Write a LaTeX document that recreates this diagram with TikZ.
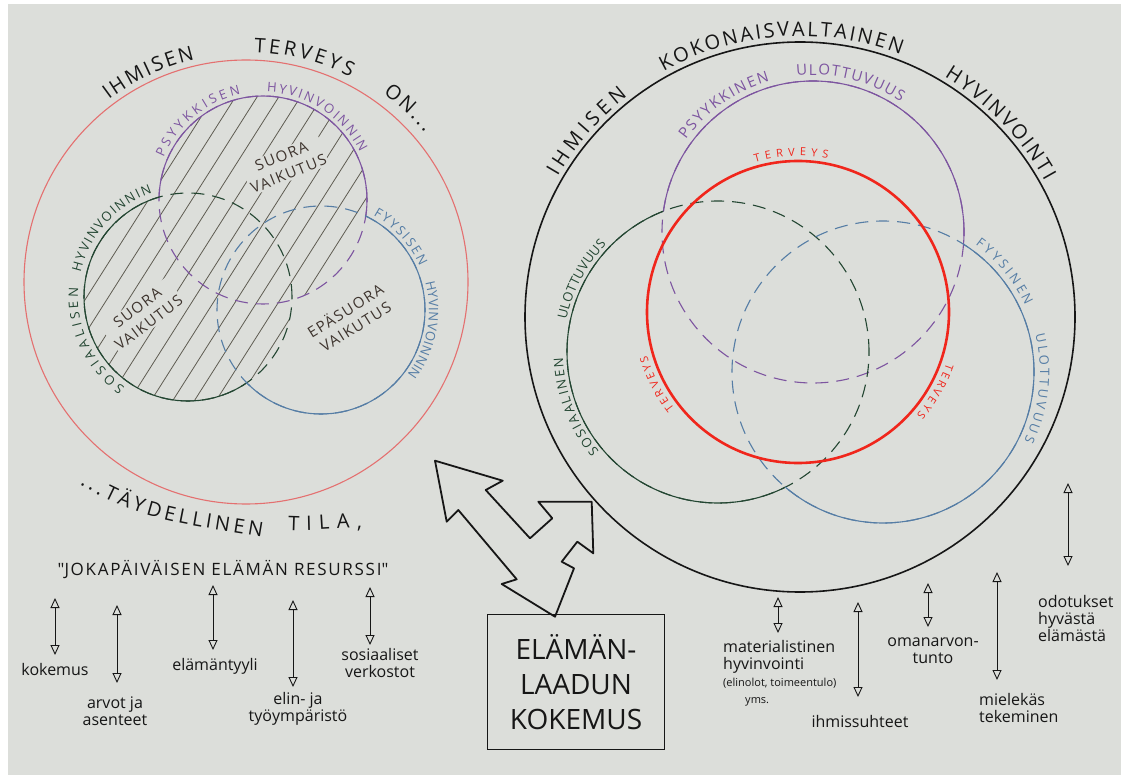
\documentclass[tikz,border=0pt]{standalone}
\usepackage{fontspec}
\setmainfont{Open Sans}
\usetikzlibrary{arrows.meta,calc,decorations.text}
\definecolor{paper}{RGB}{220,222,218}
\definecolor{inkblack}{RGB}{22,22,22}
\definecolor{inkpink}{RGB}{228,112,112}
\definecolor{inkpurple}{RGB}{125,85,160}
\definecolor{inkgreen}{RGB}{35,70,50}
\definecolor{inkblue}{RGB}{85,125,165}
\definecolor{inkred}{RGB}{240,38,28}
\definecolor{inkgrey}{RGB}{95,92,82}
\definecolor{inkbrown}{RGB}{62,52,46}
\tikzset{
  ring/.style={line width=1.1pt},
  ringdash/.style={line width=1.1pt, dash pattern=on 13pt off 8pt},
  hatch/.style={draw=inkgrey, line width=0.8pt},
  dblarrow/.style={{Triangle[open,length=10pt,width=9pt]}-{Triangle[open,length=10pt,width=9pt]},
    line width=0.9pt, draw=inkblack},
  lbl/.style={font=\fontsize{16}{17}\selectfont, text=inkblack, align=center,
    inner sep=0pt, anchor=north},
  innerlbl/.style={font=\fontsize{15}{19}\selectfont\addfontfeature{LetterSpace=10},
    text=inkbrown, align=center, fill=paper, inner sep=1.5pt},
  bigarrow/.style={draw=inkblack, line width=1.8pt, line join=round}
}
\newcommand\capsbig{\fontsize{20}{20}\selectfont}
\newcommand\capsmid{\fontsize{15}{15}\selectfont}
\newcommand\capssmall{\fontsize{13}{13}\selectfont}
\newcommand\capstiny{\fontsize{11}{11}\selectfont}
% word along a clockwise arc: centre, radius, from, to, colour, text
\newcommand\arclabel[6]{%
  \path[decorate,decoration={text along path,text align=fit to path,text color=#5,text={#6}}]
    ($(#1)+(#3:#2)$) arc[start angle=#3,end angle=#4,radius=#2];}
% one circle of a three-set diagram: solid outside the other two, dashed inside
\newcommand\vennring[5]{%
  \draw[ringdash,#2] (#1) circle[radius=#5];
  \begin{scope}[even odd rule]
    \clip (0,0) rectangle (1121,-775) (#3) circle[radius=#5];
    \begin{scope}[even odd rule]
      \clip (0,0) rectangle (1121,-775) (#4) circle[radius=#5];
      \draw[ring,#2] (#1) circle[radius=#5];
    \end{scope}
  \end{scope}}

\begin{document}
\begin{tikzpicture}[x=1pt,y=1pt]
  \useasboundingbox (0,0) rectangle (1121,-775);
  \fill[white] (0,0) rectangle (1121,-775);
  \fill[paper] (8,-4) rectangle (1121,-775);

  % left diagram
  \coordinate (lred) at (246,-282);
  \coordinate (lpsy) at (263,-200);
  \coordinate (lsoc) at (188,-297);
  \coordinate (lphy) at (321,-310);

  \begin{scope}
    \clip (lpsy) circle[radius=104] (lsoc) circle[radius=104];
    \begin{scope}[shift={(225,-250)},rotate=57.6]
      \foreach \k in {-11,...,11}
        \draw[hatch] (-260,\k*18.3) -- (260,\k*18.3);
    \end{scope}
  \end{scope}

  \node[innerlbl,rotate=22] (suoraPsy) at (285,-165) {SUORA\\VAIKUTUS};
  \node[innerlbl,rotate=37] (suoraSoc) at (143,-315) {SUORA\\VAIKUTUS};
  \node[innerlbl,rotate=32] (epasuora) at (350,-318) {EPÄSUORA\\VAIKUTUS};

  \draw[ring,inkpink] (lred) circle[radius=222];
  \vennring{lpsy}{inkpurple}{lsoc}{lphy}{104}
  \vennring{lsoc}{inkgreen}{lpsy}{lphy}{104}
  \vennring{lphy}{inkblue}{lpsy}{lsoc}{104}

  \arclabel{lred}{228}{127}{103}{inkblack}{|\capsbig|IHMISEN}
  \arclabel{lred}{230}{88}{63}{inkblack}{|\capsbig|TERVEYS}
  \arclabel{lred}{233}{54}{40}{inkblack}{|\capsbig|ON...}
  \arclabel{lpsy}{108}{157}{102}{inkpurple}{|\capssmall|PSYYKKISEN}
  \arclabel{lpsy}{108}{88}{26}{inkpurple}{|\capssmall|HYVINVOINNIN}
  \arclabel{lsoc}{110}{235}{175}{inkgreen}{|\capssmall|SOSIAALISEN}
  \arclabel{lsoc}{110}{167}{109}{inkgreen}{|\capssmall|HYVINVOINNIN}
  \arclabel{lphy}{108}{61}{24}{inkblue}{|\capssmall|FYYSISEN}
  \arclabel{lphy}{108}{15}{-37}{inkblue}{|\capssmall|HYVINVOINNIN}

  \path[decorate,decoration={text along path,text align=fit to path,text color=inkblack,
      text={|\capsbig|...TÄYDELLINEN}}] (80,-484) to[out=-32,in=170] (262,-537);
  \path[decorate,decoration={text along path,text align=fit to path,text color=inkblack,
      text={|\capsbig|TILA,}}] (288,-530) to[out=-3,in=180] (362,-528);

  \node[font=\fontsize{17}{17}\selectfont\addfontfeature{LetterSpace=10},text=inkblack]
    (resurssi) at (223,-570) {\textquotedbl JOKAPÄIVÄISEN ELÄMÄN RESURSSI\textquotedbl};

  \node[lbl] (kokemus) at (55,-663) {kokemus};
  \node[lbl] (arvot) at (115,-697) {arvot ja\\asenteet};
  \node[lbl] (tyyli) at (215,-658) {elämäntyyli};
  \node[lbl] (ymparisto) at (298,-692) {elin- ja\\työympäristö};
  \node[lbl] (verkostot) at (380,-648) {sosiaaliset\\verkostot};
  \draw[dblarrow] ([yshift=8pt]kokemus.north) -- ++(0,57);
  \draw[dblarrow] ([shift={(2,14)}]arvot.north) -- ++(0,78);
  \draw[dblarrow] ([shift={(-2,8)}]tyyli.north) -- ++(0,65);
  \draw[dblarrow] ([shift={(-5,5)}]ymparisto.north) -- ++(0,87);
  \draw[dblarrow] ([shift={(-10,3)}]verkostot.north) -- ++(0,58);

  % right diagram
  \coordinate (rwhole) at (800,-317);
  \coordinate (rpsy) at (813,-232);
  \coordinate (rsoc) at (718,-352);
  \coordinate (rphy) at (883,-372);
  \coordinate (rhealth) at (798,-312);

  \draw[inkblack,line width=1.6pt] (rwhole) circle[radius=275];
  \vennring{rpsy}{inkpurple}{rsoc}{rphy}{151}
  \vennring{rsoc}{inkgreen}{rpsy}{rphy}{151}
  \vennring{rphy}{inkblue}{rpsy}{rsoc}{151}
  \draw[inkred,line width=2.6pt] (rhealth) circle[radius=151];

  \arclabel{rwhole}{280}{150}{128}{inkblack}{|\capsbig|IHMISEN}
  \arclabel{rwhole}{281}{119}{69}{inkblack}{|\capsbig|KOKONAISVALTAINEN}
  \arclabel{rwhole}{280}{59}{29}{inkblack}{|\capsbig|HYVINVOINTI}
  \arclabel{rpsy}{157}{144}{106}{inkpurple}{|\capsmid|PSYYKKINEN}
  \arclabel{rpsy}{157}{96}{56}{inkpurple}{|\capsmid|ULOTTUVUUS}
  \arclabel{rhealth}{156}{106}{79}{inkred}{|\capstiny|TERVEYS}
  \arclabel{rhealth}{157}{218}{196}{inkred}{|\capstiny|TERVEYS}
  \arclabel{rhealth}{157}{-19}{-41}{inkred}{|\capstiny|TERVEYS}
  \arclabel{rsoc}{155}{220}{182}{inkgreen}{|\capssmall|SOSIAALINEN}
  \arclabel{rsoc}{155}{168}{136}{inkgreen}{|\capssmall|ULOTTUVUUS}
  \arclabel{rphy}{157}{54}{25}{inkblue}{|\capssmall|FYYSINEN}
  \arclabel{rphy}{157}{14}{-26}{inkblue}{|\capssmall|ULOTTUVUUS}

  % quality of life box and the forked arrow
  \node[draw=inkblack,line width=1.6pt,minimum width=177pt,minimum height=135pt,
    font=\fontsize{28}{35}\selectfont,text=inkblack,align=center]
    (qolbox) at (576,-682) {ELÄMÄN-\\LAADUN\\KOKEMUS};
  \draw[bigarrow] (435,-460.7) -- (502.7,-480.7) -- (485.7,-490) -- (530,-538.3)
    -- (552.3,-518.3) -- (538.3,-501.7) -- (591.7,-501.7) -- (593.3,-553.3)
    -- (577.3,-541.7) -- (561.7,-561.7) -- (574,-568.3) -- (555,-616.7)
    -- (501.7,-584) -- (516.7,-579.3) -- (458.3,-510) -- (446.7,-521.7) -- cycle;

  \node[lbl,align=left,anchor=north west] (materia) at (723,-640)
    {materialistinen\\hyvinvointi\\{\fontsize{11}{13}\selectfont(elinolot, toimeentulo)}\\
     \hspace*{22pt}{\fontsize{11}{13}\selectfont yms.}};
  \node[lbl] (suhteet) at (860,-715) {ihmissuhteet};
  \node[lbl] (arvontunto) at (933,-638) {omanarvon-\\tunto};
  \node[lbl,align=left,anchor=north west] (tekeminen) at (979,-693) {mielekäs\\tekeminen};
  \node[lbl,align=left,anchor=north west] (odotukset) at (1038,-595)
    {odotukset\\hyvästä\\elämästä};
  \draw[dblarrow] ([shift={(55,7)}]materia.north west) -- ++(0,36);
  \draw[dblarrow] ([shift={(-2,18)}]suhteet.north) -- ++(0,95);
  \draw[dblarrow] ([shift={(-5,11)}]arvontunto.north) -- ++(0,44);
  \draw[dblarrow] ([shift={(18,13)}]tekeminen.north west) -- ++(0,108);
  \draw[dblarrow] ([shift={(30,29)}]odotukset.north west) -- ++(0,83);
\end{tikzpicture}
\end{document}
